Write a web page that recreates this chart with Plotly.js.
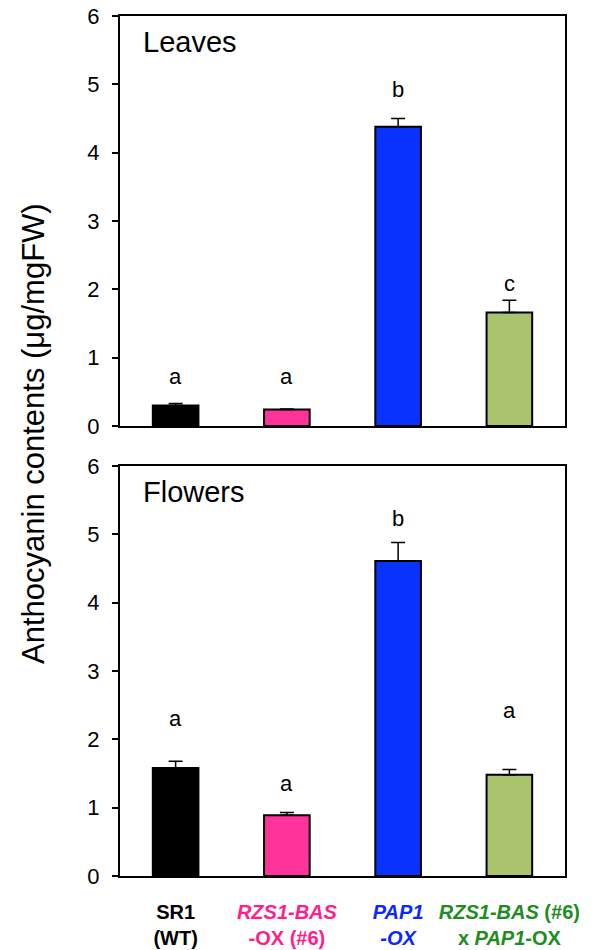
<!DOCTYPE html>
<html><head><meta charset="utf-8">
<script src="https://cdn.plot.ly/plotly-3.0.1.min.js"></script>
<style>html,body{margin:0;padding:0;background:#fff}</style>
</head><body><div id="chart" style="width:596px;height:950px"></div>
<script>
const categories = ["SR1 (WT)", "RZS1-BAS-OX (#6)", "PAP1-OX", "RZS1-BAS (#6) x PAP1-OX"];
const tickLabels = [
  "<b>SR1</b><br><b>(WT)</b>",
  "<b><i>RZS1-BAS</i></b><br><b>-OX (#6)</b>",
  "<b><i>PAP1</i></b><br><b><i>-OX</i></b>",
  "<b><i>RZS1-BAS</i> (#6)</b><br><b>x <i>PAP1</i>-OX</b>"
];
const tickColors = ["#000000", "#FF1E8C", "#0A28FF", "#1E8C1E"];
const barColors = ["#000000", "#FF3399", "#0A32FF", "#A9C46C"];
const leavesValues = [0.30, 0.24, 4.38, 1.66];
const leavesErrors = [0.03, 0.01, 0.12, 0.18];
const leavesLetters = ["a", "a", "b", "c"];
const leavesLetterY = [0.72, 0.72, 4.93, 2.08];
const flowersValues = [1.58, 0.89, 4.61, 1.48];
const flowersErrors = [0.10, 0.04, 0.27, 0.08];
const flowersLetters = ["a", "a", "b", "a"];
const flowersLetterY = [2.30, 1.35, 5.23, 2.42];

const font = "Liberation Sans, Arial, sans-serif";
const traces = [
  {type: "bar", x: categories, y: leavesValues, xaxis: "x", yaxis: "y", width: 0.41,
   marker: {color: barColors, line: {color: "#000", width: 2}},
   error_y: {type: "data", array: leavesErrors, symmetric: false, arrayminus: [0,0,0,0], color: "#000", thickness: 1.5, width: 7}},
  {type: "bar", x: categories, y: flowersValues, xaxis: "x2", yaxis: "y2", width: 0.41,
   marker: {color: barColors, line: {color: "#000", width: 2}},
   error_y: {type: "data", array: flowersErrors, symmetric: false, arrayminus: [0,0,0,0], color: "#000", thickness: 1.5, width: 7}}
];
const annotations = [];
categories.forEach((c, i) => {
  annotations.push({x: c, y: leavesLetterY[i], xref: "x", yref: "y", text: leavesLetters[i], showarrow: false, font: {family: font, size: 22, color: "#000"}});
  annotations.push({x: c, y: flowersLetterY[i], xref: "x2", yref: "y2", text: flowersLetters[i], showarrow: false, font: {family: font, size: 22, color: "#000"}});
});
annotations.push({x: 0.048, xref: "paper", y: 5.62, yref: "y", text: "Leaves", showarrow: false, xanchor: "left", font: {family: font, size: 29, color: "#000"}});
annotations.push({x: 0.048, xref: "paper", y: 5.62, yref: "y2", text: "Flowers", showarrow: false, xanchor: "left", font: {family: font, size: 29, color: "#000"}});
annotations.push({x: (33 - 120) / 445, xref: "paper", y: 1 - 434/950, yref: "paper", xanchor: "center", yanchor: "middle",
  text: "Anthocyanin contents (μg/mgFW)", textangle: -90, showarrow: false, font: {family: font, size: 31, color: "#000"}});

const yax = (dom) => ({domain: dom, range: [0, 6], dtick: 1, tickmode: "linear", ticks: "outside", ticklen: 6, tickwidth: 2, tickcolor: "#000",
  showline: true, linewidth: 2, linecolor: "#000", mirror: true, showgrid: false, zeroline: false,
  tickfont: {family: font, size: 22, color: "#000"}, automargin: false, ticklabelstandoff: 8});
const xax = (showLabels) => ({range: [-0.5, 3.5], showline: true, linewidth: 2, linecolor: "#000", mirror: true, ticks: "", showgrid: false,
  zeroline: false, showticklabels: showLabels, automargin: false, type: "category"});

const layout = {
  width: 596, height: 950, margin: {l: 120, r: 31, t: 0, b: 0}, showlegend: false, bargap: 0,
  paper_bgcolor: "#fff", plot_bgcolor: "#fff",
  xaxis: Object.assign(xax(false), {anchor: "y"}),
  yaxis: Object.assign(yax([1 - 426/950, 1 - 16/950]), {anchor: "x"}),
  xaxis2: Object.assign(xax(true), {anchor: "y2", tickmode: "array", tickvals: categories,
    ticktext: tickLabels.map((t, i) => `<span style="color:${tickColors[i]}">${t}</span>`),
    tickfont: {family: font, size: 20, color: "#000"}, ticklabelstandoff: 17}),
  yaxis2: Object.assign(yax([1 - 876/950, 1 - 466/950]), {anchor: "x2"}),
  annotations: annotations
};
Plotly.newPlot("chart", traces, layout, {displayModeBar: false, staticPlot: true});
</script></body></html>
